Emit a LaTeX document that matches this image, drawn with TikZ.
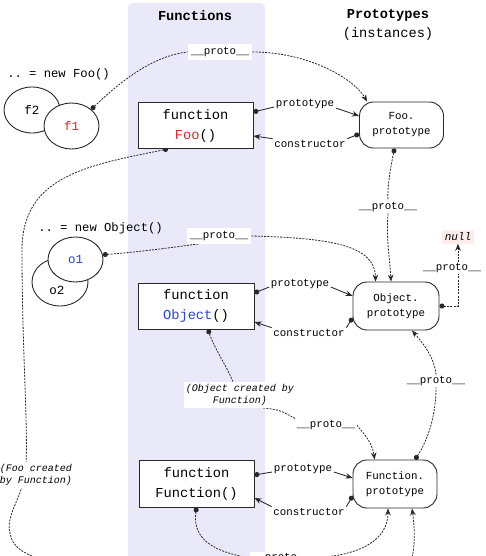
\documentclass[tikz,border=0pt]{standalone}
\usepackage{fontspec}
\setmonofont{Liberation Mono}
\usetikzlibrary{arrows.meta,shapes.geometric,calc}
\definecolor{lav}{RGB}{233,233,250}
\definecolor{fred}{RGB}{220,40,40}
\definecolor{oblue}{RGB}{40,70,210}
\definecolor{nullbg}{RGB}{252,236,236}
\definecolor{ink}{RGB}{40,40,40}
\pgfdeclarelayer{bgl}
\pgfdeclarelayer{lnl}
\pgfsetlayers{bgl,lnl,main}
\tikzset{
 fnbox/.style={draw=ink, line width=0.9pt, fill=white, rectangle, minimum width=115pt, minimum height=46pt, align=center, font=\ttfamily\fontsize{13.7}{20}\selectfont, inner sep=0pt},
 pbox/.style={draw=ink, line width=0.9pt, fill=white, rounded corners=14pt, minimum width=85pt, minimum height=47pt, align=center, font=\ttfamily\fontsize{10.8}{15}\selectfont, inner sep=0pt},
 inst/.style={draw=ink, line width=0.9pt, fill=white, ellipse, inner sep=0pt, font=\ttfamily\fontsize{12.5}{14}\selectfont},
 lbl/.style={font=\ttfamily\fontsize{10.8}{13}\selectfont, inner sep=1.5pt},
 wlbl/.style={lbl, fill=white, inner sep=3pt},
 note/.style={font=\ttfamily\itshape\fontsize{10}{12}\selectfont, align=center, fill=white, inner sep=2pt},
 ttl/.style={font=\ttfamily\bfseries\fontsize{13.7}{16}\selectfont},
 dashlink/.style={draw=ink, line width=0.8pt, dash pattern=on 2pt off 1.2pt},
 sl/.style={draw=ink, line width=0.85pt},
 arrowend/.style={-{Stealth[length=7pt,width=5.5pt]}},
 dotstart/.style={{Circle[length=5pt]}-},
 dotarrow/.style={{Circle[length=5pt]}-{Stealth[length=7pt,width=5.5pt]}},
}
\begin{document}
\begin{tikzpicture}[x=1pt,y=-1pt]
\useasboundingbox (0,0) rectangle (486,556);
\clip (0,0) rectangle (486,556);
\begin{pgfonlayer}{bgl}
\clip (0,0) rectangle (486,556);
\fill[white] (0,0) rectangle (486,556);
\fill[lav, rounded corners=5pt] (128,3) rectangle (265,590);
\end{pgfonlayer}

% titles
\node[ttl] (tF) at (195,16) {Functions};
\node[ttl] (tP) at (388,15) {Prototypes};
\node[font=\ttfamily\fontsize{13.7}{16}\selectfont] (tI) at (388,34) {(instances)};

% function boxes and prototypes
\node[fnbox] (foo) at (195.5,125.5) {function\\\textcolor{fred}{Foo}()};
\node[pbox, minimum width=84pt, minimum height=46pt] (fooP) at (401.5,125) {Foo.\\prototype};
\node[fnbox, minimum width=116pt] (objB) at (196,306) {function\\\textcolor{oblue}{Object}()};
\node[pbox, minimum width=86pt, minimum height=48pt] (objP) at (396,306) {Object.\\prototype};
\node[fnbox, minimum height=47pt] (funB) at (196.5,483.5) {function\\Function()};
\node[pbox, minimum width=84pt, minimum height=48pt] (funP) at (395,484) {Function.\\prototype};

% instances
\node[font=\ttfamily\fontsize{12.2}{14}\selectfont] (newFoo) at (58.5,74) {.. = new Foo()};
\node[inst, minimum width=56pt, minimum height=46pt] (f2) at (32,110) {f2};
\node[inst, minimum width=55pt, minimum height=46pt, text=fred] (f1) at (71.5,126) {f1};
\node[font=\ttfamily\fontsize{12.2}{14}\selectfont] (newObj) at (100.5,228) {.. = new Object()};
\node[inst, minimum width=56pt, minimum height=48pt] (o2) at (60,282) {};
\node[font=\ttfamily\fontsize{12.5}{14}\selectfont] (o2t) at (57,290) {o2};
\node[inst, minimum width=55pt, minimum height=45pt, text=oblue] (o1) at (75.5,259.5) {o1};

% labels
\node[wlbl] (L1) at (220,52) {\_\_proto\_\_};
\node[lbl] (pFoo) at (305,104) {prototype};
\node[lbl] (cFoo) at (310,144) {constructor};
\node[lbl, fill=white] (L2) at (388,207) {\_\_proto\_\_};
\node[wlbl] (L3) at (219,236) {\_\_proto\_\_};
\node[lbl] (pObj) at (300,284) {prototype};
\node[lbl] (cObj) at (309,333) {constructor};
\node[lbl, fill=white] (L4) at (452,268) {\_\_proto\_\_};
\node[lbl, fill=nullbg, font=\ttfamily\itshape\fontsize{11}{13}\selectfont, inner sep=2.5pt] (null) at (458,237) {null};
\node[lbl, fill=white] (L5) at (436,381) {\_\_proto\_\_};
\node[note] (objNote) at (240,395) {(Object created by\\Function)};
\node[lbl, fill=white] (L6) at (326,425) {\_\_proto\_\_};
\node[lbl] (pFun) at (303,469) {prototype};
\node[lbl] (cFun) at (309,512) {constructor};
\node[lbl, fill=white] (L7) at (281,558) {\_\_proto\_\_};
\node[note] (fooNote) at (36,475) {(Foo created\\by Function)};

\begin{pgfonlayer}{lnl}
\clip (0,0) rectangle (486,556);
% f1 -> Foo.prototype
\draw[dashlink, dotstart] (f1.40) .. controls (130,72) and (160,55) .. (L1.west);
\draw[dashlink, arrowend] (L1.east) .. controls (310,52) and (355,80) .. ($(fooP.north west)+(8,0)$);
% Foo prototype / constructor
\draw[sl, dotstart] ($(foo.east)+(0,-13.5)$) -- ($(pFoo.west)+(0,3)$);
\draw[sl, arrowend] ($(pFoo.east)+(0,4)$) -- ($(fooP.west)+(0,-9)$);
\draw[sl, dotstart] ($(fooP.west)+(0,9)$) -- (cFoo.north east);
\draw[sl, arrowend] (cFoo.north west) -- ($(foo.east)+(0,10.5)$);
% Foo.prototype -> Object.prototype
\draw[dashlink, dotstart] ($(fooP.south)+(-7,0)$) .. controls (390,170) and (387,190) .. (L2.north);
\draw[dashlink, arrowend] (L2.south) .. controls (386,240) and (390,260) .. ($(objP.north)+(-5,0)$);
% o1 -> Object.prototype
\draw[dashlink, dotstart] (o1.10) .. controls (140,252) and (175,247) .. ($(L3.south west)+(12,0)$);
\draw[dashlink, arrowend] (L3.east) .. controls (330,238) and (375,245) .. ($(objP.north west)+(23,0)$);
% Object prototype / constructor
\draw[sl, dotstart] ($(objB.east)+(0,-13)$) -- ($(pObj.west)+(0,3)$);
\draw[sl, arrowend] ($(pObj.east)+(0,3)$) -- ($(objP.west)+(0,-10)$);
\draw[sl, dotstart] ($(objP.west)+(0,12)$) -- (cObj.north east);
\draw[sl, arrowend] (cObj.north west) -- ($(objB.east)+(0,16)$);
% Object.prototype -> null
\draw[dashlink, dotarrow] (objP.east) -| (null.south);
% Function.prototype -> Object.prototype
\draw[dashlink, dotstart] ($(funP.north)+(20,0)$) .. controls (428,440) and (436,415) .. (L5.south);
\draw[dashlink, arrowend] (L5.north) .. controls (434,355) and (420,340) .. ($(objP.south)+(16,0)$);
% Object -> Function.prototype
\draw[dashlink, dotstart] ($(objB.south)+(12,0)$) .. controls (215,350) and (228,368) .. ($(objNote.north)+(-7,0)$);
\draw[dashlink] ($(objNote.south east)+(-33,0)$) .. controls (280,410) .. (L6.north west);
\draw[dashlink, arrowend] (L6.east) .. controls (360,430) and (372,440) .. ($(funP.north west)+(22,0)$);
% Function prototype / constructor
\draw[sl, dotstart] ($(funB.east)+(0,-8.5)$) -- ($(pFun.west)+(0,3)$);
\draw[sl, arrowend] ($(pFun.east)+(0,3)$) -- ($(funP.west)+(0,-6)$);
\draw[sl, dotstart] ($(funP.west)+(0,12)$) -- (cFun.north east);
\draw[sl, arrowend] (cFun.north west) -- ($(funB.east)+(0,14.5)$);
% Function -> Function.prototype
\draw[dashlink, dotstart] (funB.south) .. controls (192,540) and (215,552) .. (L7.west);
\draw[dashlink, arrowend] (L7.east) .. controls (360,556) and (388,540) .. ($(funP.south)+(-7,0)$);
% Foo -> Function.prototype (around the bottom)
\draw[dashlink, dotarrow] ($(foo.south)+(-27.5,0)$) .. controls (90,165) and (22,175) .. (22,250)
  .. controls (22,350) and (28,420) .. (26,468)
  .. controls (24,495) and (5,515) .. (10,533)
  .. controls (12,546) and (22,553) .. (38,558)
  .. controls (100,580) and (200,585) .. (250,585) -- (380,585)
  .. controls (415,585) and (417,545) .. ($(funP.south)+(17,0)$);
\end{pgfonlayer}
\end{tikzpicture}
\end{document}
